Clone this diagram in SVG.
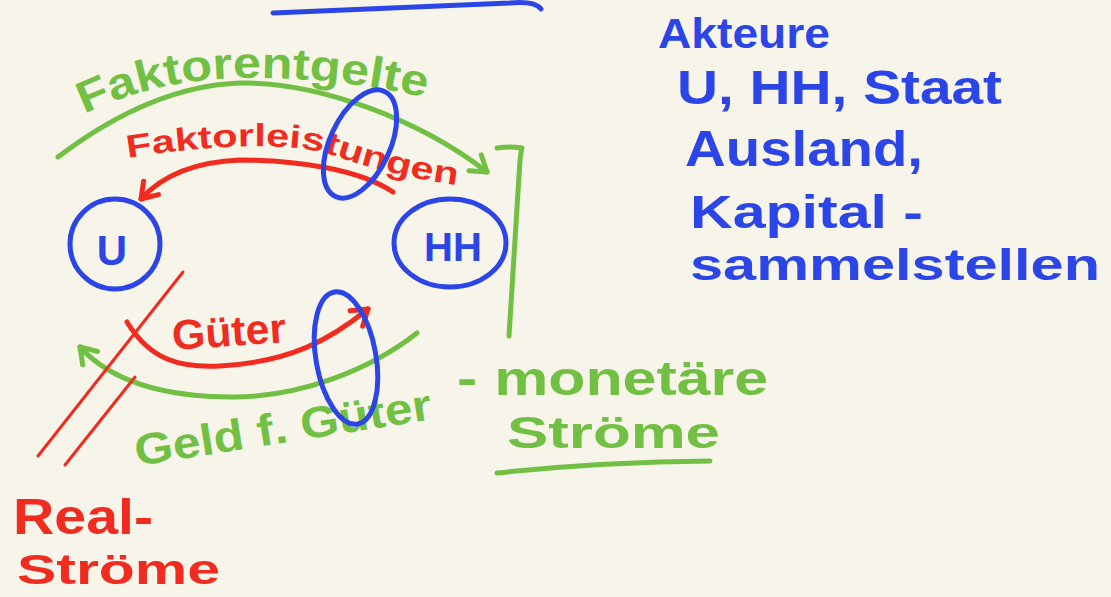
<svg xmlns="http://www.w3.org/2000/svg" width="1111" height="597" viewBox="0 0 1111 597">
<style>
.bg{fill:#f7f5ea}
.g{fill:#72c043}.r{fill:#f02b1f}.b{fill:#2b45e6}
.gs{fill:none;stroke:#72c043;stroke-width:5;stroke-linecap:round;stroke-linejoin:round}
.rs{fill:none;stroke:#f02b1f;stroke-width:5;stroke-linecap:round;stroke-linejoin:round}
.rt{fill:none;stroke:#f02b1f;stroke-width:3;stroke-linecap:round}
.bs{fill:none;stroke:#2b45e6;stroke-width:5;stroke-linecap:round}
text{font-family:"Liberation Sans","DejaVu Sans",sans-serif;font-weight:bold}
</style>
<defs>
<marker id="ag" viewBox="-20 -15 30 30" refX="0" refY="0" markerWidth="30" markerHeight="30" markerUnits="userSpaceOnUse" orient="auto">
<path d="M-15,-10 L0,0 L-15,10" fill="none" stroke="#72c043" stroke-width="5" stroke-linecap="round" stroke-linejoin="round"/>
</marker>
<marker id="ar" viewBox="-20 -15 30 30" refX="0" refY="0" markerWidth="30" markerHeight="30" markerUnits="userSpaceOnUse" orient="auto">
<path d="M-15,-10 L0,0 L-15,10" fill="none" stroke="#f02b1f" stroke-width="5" stroke-linecap="round" stroke-linejoin="round"/>
</marker>
<path id="tp1" d="M84,114 C140,88 190,78 250,78 C320,78 380,86 434,100"/>
<path id="tp2" d="M128,158 C200,146 290,140 335,156 C380,172 430,182 464,186"/>
</defs>
<rect class="bg" x="0" y="0" width="1111" height="597"/>

<path class="bs" d="M273,13 L510,3 Q535,1 541,9" stroke-width="6"/>

<g id="connectors">
<path class="gs" d="M58,157 C120,110 180,85 240,83 C320,82 420,120 487,172" marker-end="url(#ag)"/>
<path class="rs" d="M393,192 C360,170 300,160 240,160 C190,162 160,178 141,199" marker-end="url(#ar)"/>
<path class="rs" d="M127,322 C150,360 180,368 220,366 C290,362 330,340 368,309" marker-end="url(#ar)"/>
<path class="gs" d="M417,333 C370,370 300,397 233,397 C160,397 110,380 80,347" marker-end="url(#ag)"/>
<path class="gs" d="M497,148 Q510,146 522,148 Q521,152 520,160 L509,336"/>
<path class="rt" d="M183,272 L38,456"/>
<path class="rt" d="M135,377 L65,465"/>
</g>

<g id="node-U">
<circle class="bs" cx="115" cy="244" r="45"/>
<text class="b" x="112" y="265" font-size="42" text-anchor="middle">U</text>
</g>
<g id="node-HH">
<ellipse class="bs" cx="450" cy="243" rx="56" ry="44"/>
<text class="b" x="453" y="261" font-size="40" text-anchor="middle">HH</text>
</g>

<g id="label-faktorentgelte">
<text class="g" font-size="44"><textPath href="#tp1" textLength="348" lengthAdjust="spacingAndGlyphs">Faktorentgelte</textPath></text>
</g>
<g id="label-faktorleistungen">
<text class="r" font-size="32"><textPath href="#tp2" textLength="334" lengthAdjust="spacingAndGlyphs">Faktorleistungen</textPath></text>
</g>
<g id="label-gueter">
<text class="r" x="173" y="350" font-size="42" textLength="114" lengthAdjust="spacingAndGlyphs" transform="rotate(-4 173 350)">Güter</text>
</g>
<g id="label-geld">
<text class="g" x="137" y="466" font-size="44" textLength="300" lengthAdjust="spacingAndGlyphs" transform="rotate(-9 137 466)">Geld f. Güter</text>
</g>

<ellipse class="bs" cx="360" cy="144" rx="30" ry="58" transform="rotate(25 360 144)" stroke-width="4"/>
<ellipse class="bs" cx="346" cy="358" rx="30" ry="67" transform="rotate(-10 346 358)" stroke-width="4"/>

<g id="label-monetaer">
<text class="g" x="457" y="395" font-size="48" textLength="311" lengthAdjust="spacingAndGlyphs">- monetäre</text>
<text class="g" x="507" y="448" font-size="44" textLength="213" lengthAdjust="spacingAndGlyphs">Ströme</text>
<path class="gs" d="M497,473 Q600,462 710,461" stroke-width="6"/>
</g>

<g id="label-real">
<text class="r" x="13" y="534" font-size="50" textLength="140" lengthAdjust="spacingAndGlyphs">Real-</text>
<text class="r" x="17" y="584" font-size="42" textLength="203" lengthAdjust="spacingAndGlyphs">Ströme</text>
</g>

<g id="label-akteure">
<text class="b" x="658" y="48" font-size="42" textLength="172" lengthAdjust="spacingAndGlyphs">Akteure</text>
<text class="b" x="677" y="104" font-size="48" textLength="325" lengthAdjust="spacingAndGlyphs">U, HH, Staat</text>
<text class="b" x="685" y="166" font-size="50" textLength="238" lengthAdjust="spacingAndGlyphs">Ausland,</text>
<text class="b" x="690" y="228" font-size="46" textLength="233" lengthAdjust="spacingAndGlyphs">Kapital -</text>
<text class="b" x="690" y="280" font-size="44" textLength="410" lengthAdjust="spacingAndGlyphs">sammelstellen</text>
</g>
</svg>
